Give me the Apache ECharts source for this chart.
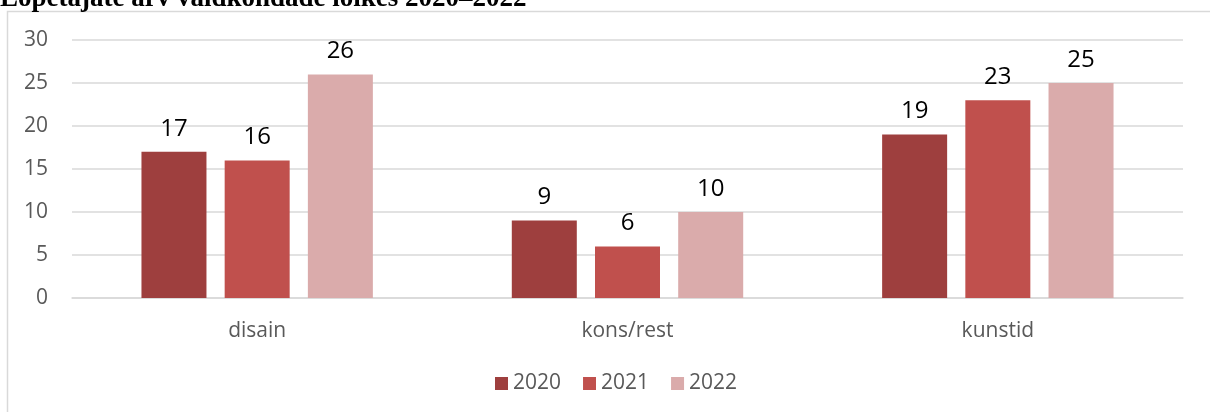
<!DOCTYPE html>
<html>
<head>
<meta charset="utf-8">
<script src="https://cdn.jsdelivr.net/npm/echarts@6/dist/echarts.min.js"></script>
<style>
html,body{margin:0;padding:0;background:#fff;}
#c{width:1210px;height:412px;}
</style>
</head>
<body>
<div id="c"></div>
<script>
var titleText = 'Lõpetajate arv valdkondade lõikes 2020–2022';
var categories = ['disain', 'kons/rest', 'kunstid'];
var seriesNames = ['2020', '2021', '2022'];
var values2020 = [17, 9, 19];
var values2021 = [16, 6, 23];
var values2022 = [26, 10, 25];
var colors = ['#9E3F3E', '#C0504D', '#DAABAB'];

var chart = echarts.init(document.getElementById('c'), null, {renderer: 'canvas'});
var font = 'Open Sans';
var allValues = [values2020, values2021, values2022];
var series = seriesNames.map(function (n, i) {
  return {
    name: n,
    type: 'bar',
    data: allValues[i],
    barWidth: 65,
    barGap: '28%',
    itemStyle: {color: colors[i]},
    label: {
      show: true,
      position: 'top',
      distance: 11,
      color: '#000',
      fontFamily: font,
      fontSize: 24
    }
  };
});

chart.setOption({
  animation: false,
  backgroundColor: '#fff',
  graphic: [
    {type: 'rect', shape: {x: 7.5, y: 11.5, width: 1300, height: 500}, style: {fill: 'none', stroke: '#d9d9d9', lineWidth: 1.5}, silent: true},
    {type: 'text', left: 0, top: -14, style: {text: titleText, font: 'bold 27px "Liberation Serif", "Times New Roman", serif', fill: '#000'}}
  ],
  grid: {left: 72, right: 27, top: 40, bottom: 114, containLabel: false},
  legend: {
    data: seriesNames,
    bottom: 13,
    left: 490,
    itemWidth: 13,
    itemHeight: 13,
    itemGap: 22,
    icon: 'rect',
    textStyle: {color: '#595959', fontFamily: font, fontSize: 21}
  },
  xAxis: {
    type: 'category',
    data: categories,
    axisLine: {show: true, lineStyle: {color: '#d9d9d9', width: 1.5}},
    axisTick: {show: false},
    axisLabel: {color: '#595959', fontFamily: font, fontSize: 21, margin: 23}
  },
  yAxis: {
    type: 'value',
    min: 0,
    max: 30,
    interval: 5,
    axisLine: {show: false},
    axisTick: {show: false},
    splitLine: {lineStyle: {color: '#d9d9d9', width: 1.5}},
    axisLabel: {color: '#595959', fontFamily: font, fontSize: 21, margin: 24}
  },
  series: series
});
</script>
</body>
</html>
